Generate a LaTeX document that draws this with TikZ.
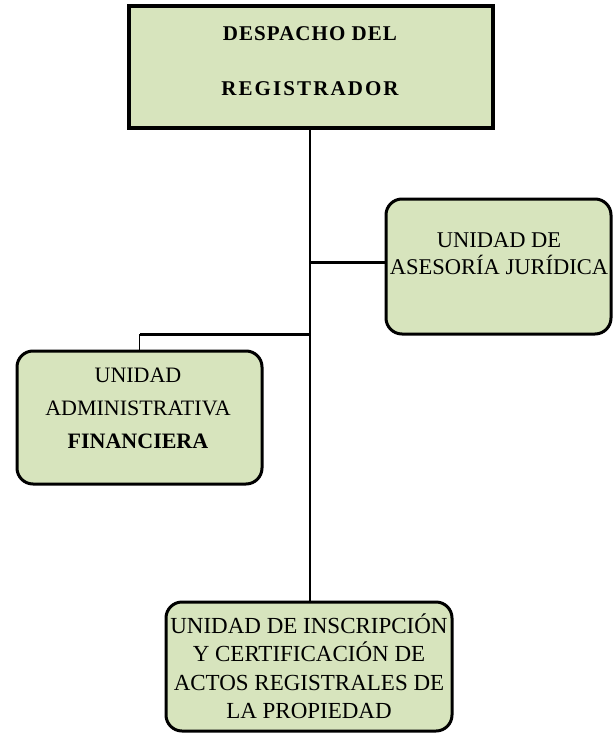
\documentclass[tikz,border=0pt]{standalone}
\usepackage{fontspec}
\setmainfont{Liberation Serif}
\usetikzlibrary{positioning}
\definecolor{boxgreen}{HTML}{D7E4BD}

\begin{document}
\begin{tikzpicture}[
  x=1pt, y=-1pt,
  every node/.style={font=\fontsize{22}{28}\selectfont},
  headbox/.style={draw, line width=3.8pt, fill=boxgreen, inner sep=0pt},
  unitbox/.style={draw, line width=3pt, rounded corners=16pt, fill=boxgreen, inner sep=0pt},
  lbl/.style={align=center, inner sep=0pt},
  link/.style={line width=1.5pt},
  branch/.style={line width=3pt},
]
  \useasboundingbox (0,0) rectangle (615,734);

  % boxes
  \node[headbox, minimum width=364pt, minimum height=122pt] (desp) at (311, 67) {};
  \node[unitbox, minimum width=225pt, minimum height=135pt] (ases) at (498.5, 266.5) {};
  \node[unitbox, minimum width=245pt, minimum height=133pt] (admin) at (139.5, 417.5) {};
  \node[unitbox, minimum width=286pt, minimum height=129pt] (inscr) at (309, 666.5) {};

  % texts
  \node[lbl, font=\fontsize{21}{55}\selectfont\bfseries] (despT) at (310, 61)
    {{\addfontfeature{LetterSpace=5}DESPACHO DEL}\\{\addfontfeature{LetterSpace=10}REGISTRADOR}};
  \node[lbl, font=\fontsize{22.5}{27}\selectfont] (asesT) at (499, 254) {UNIDAD DE\\ASESORÍA JURÍDICA};
  \node[lbl, font=\fontsize{22}{33}\selectfont] (adminT) at (138, 408)
    {UNIDAD\\ADMINISTRATIVA\\\textbf{FINANCIERA}};
  \node[lbl, font=\fontsize{23}{28.5}\selectfont] (inscrT) at (309, 666)
    {UNIDAD DE INSCRIPCIÓN\\Y CERTIFICACIÓN DE\\ACTOS REGISTRALES DE\\LA PROPIEDAD};

  % connectors
  \coordinate (rj) at (310, 262);
  \coordinate (lj) at (310, 334);
  \draw[link] (desp.south -| rj) -- (inscr.north -| rj);
  \draw[branch] (rj) -- (rj -| ases.west);
  \draw[branch] (lj) -- (lj -| admin.north);
  \draw[link] (lj -| admin.north) -- (admin.north);
\end{tikzpicture}
\end{document}
